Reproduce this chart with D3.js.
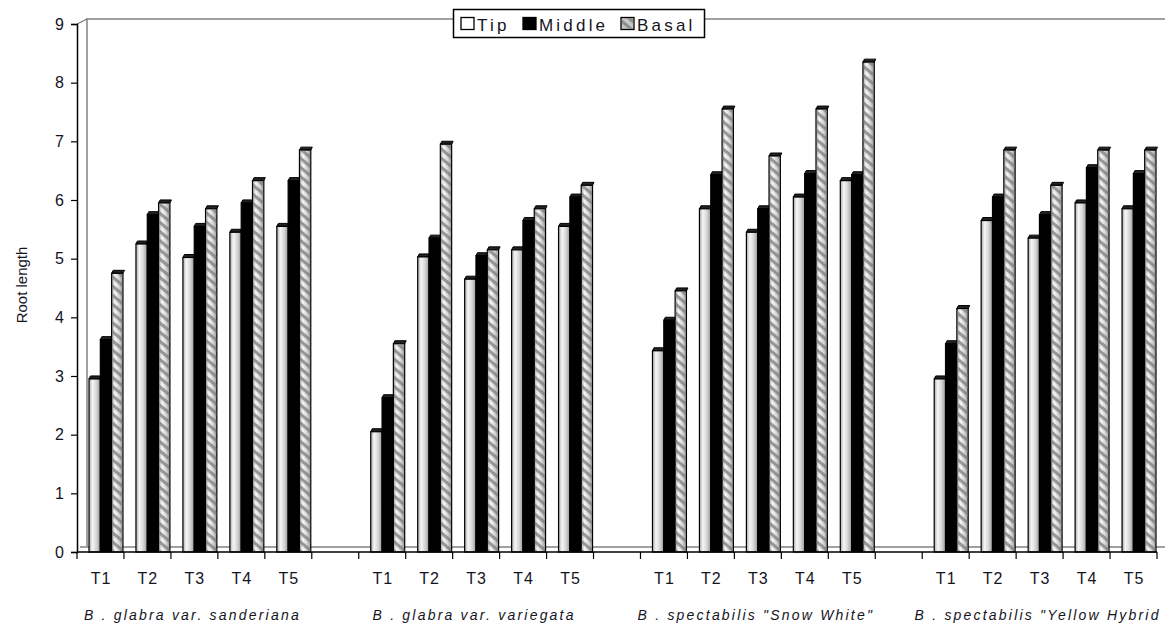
<!DOCTYPE html>
<html>
<head>
<meta charset="utf-8">
<script src="https://cdn.jsdelivr.net/npm/d3@7"></script>
<style>
html,body{margin:0;padding:0;background:#fff;}
svg{display:block;font-family:"Liberation Sans",Arial,sans-serif;}
</style>
</head>
<body>
<svg id="chart" width="1165" height="626"></svg>
<script>
const groups = ['B . glabra  var. sanderiana', 'B . glabra  var. variegata', 'B . spectabilis "Snow White"', 'B . spectabilis "Yellow Hybrid'];
const treatments = ['T1', 'T2', 'T3', 'T4', 'T5'];
const seriesNames = ['Tip', 'Middle', 'Basal'];
const tipValues =    [2.95, 5.25, 5.02, 5.45, 5.55,  2.05, 5.03, 4.65, 5.15, 5.55,  3.43, 5.85, 5.45, 6.05, 6.33,  2.95, 5.65, 5.35, 5.95, 5.85];
const middleValues = [3.62, 5.75, 5.55, 5.95, 6.33,  2.63, 5.35, 5.05, 5.65, 6.05,  3.95, 6.43, 5.85, 6.45, 6.43,  3.55, 6.05, 5.75, 6.55, 6.45];
const basalValues =  [4.75, 5.95, 5.85, 6.33, 6.85,  3.55, 6.95, 5.15, 5.85, 6.25,  4.45, 7.55, 6.75, 7.55, 8.35,  4.15, 6.85, 6.25, 6.85, 6.85];
const yTicks = [0, 1, 2, 3, 4, 5, 6, 7, 8, 9];
const yTitle = 'Root length';

const svg = d3.select('#chart');
const defs = svg.append('defs');
const textColor = '#14141e';

// slots: 5 treatments per group with an empty slot between groups
const slots = [];
groups.forEach((g, gi) => {
  treatments.forEach(t => slots.push(gi + '|' + t));
  if (gi < groups.length - 1) slots.push('gap' + gi);
});

const x0 = 77, x1 = 1157, yBase = 552, yTop = 24;
const dx = 10, dy = 5; // depth offset of the back wall

const x = d3.scaleBand().domain(slots).range([x0, x1]).padding(0);
const xs = d3.scaleBand().domain(seriesNames).range([12, x.bandwidth() - 1]).padding(0);
const y = d3.scaleLinear().domain([0, 9]).range([yBase, yTop]);

// gradients & patterns
const grad = defs.append('linearGradient').attr('id', 'cyl').attr('x1', '0%').attr('x2', '100%');
[[0, '#a8a8a8'], [0.3, '#f6f6f6'], [0.65, '#d6d6d6'], [1, '#9a9a9a']].forEach(s =>
  grad.append('stop').attr('offset', s[0]).attr('stop-color', s[1]));
const pat = defs.append('pattern').attr('id', 'stripes').attr('patternUnits', 'userSpaceOnUse')
  .attr('width', 7).attr('height', 7).attr('patternTransform', 'rotate(40)');
pat.append('rect').attr('x', 0).attr('y', 0).attr('width', 7).attr('height', 3.2).attr('fill', '#7a7a7a').attr('fill-opacity', 0.75);

// back wall
svg.append('path')
  .attr('d', `M${x0 + dx},${yBase - dy} L${x0 + dx},${yTop - dy} L1165,${yTop - dy}`)
  .attr('fill', 'none').attr('stroke', '#a0a0a0').attr('stroke-width', 2);
svg.append('line').attr('x1', x0 + 3).attr('x2', 1165).attr('y1', yBase - dy).attr('y2', yBase - dy)
  .attr('stroke', '#a0a0a0').attr('stroke-width', 2);
svg.append('line').attr('x1', x0).attr('y1', yTop).attr('x2', x0 + dx).attr('y2', yTop - dy)
  .attr('stroke', '#555').attr('stroke-width', 1);

// bars
const rows = [];
groups.forEach((g, gi) => treatments.forEach((t, ti) => {
  const i = gi * 5 + ti;
  rows.push({slot: gi + '|' + t, s: 'Tip', v: tipValues[i]});
  rows.push({slot: gi + '|' + t, s: 'Middle', v: middleValues[i]});
  rows.push({slot: gi + '|' + t, s: 'Basal', v: basalValues[i]});
}));

const bw = xs.bandwidth();
const bars = svg.append('g').selectAll('g').data(rows).join('g')
  .attr('transform', d => `translate(${x(d.slot) + xs(d.s)},0)`);

// top cap (3D)
bars.append('path')
  .attr('d', d => {
    const t = y(d.v);
    return `M0,${t} L1.5,${t - 3} L${bw + 1.5},${t - 3} L${bw},${t} Z`;
  })
  .attr('fill', '#222').attr('stroke', '#000').attr('stroke-width', 1);
bars.append('rect')
  .attr('x', 0).attr('y', d => y(d.v)).attr('width', bw).attr('height', d => yBase - y(d.v))
  .attr('fill', d => d.s === 'Middle' ? '#000' : 'url(#cyl)')
  .attr('stroke', '#000').attr('stroke-width', 1.2);
bars.filter(d => d.s === 'Basal').append('rect')
  .attr('x', 0.6).attr('y', d => y(d.v) + 0.6).attr('width', bw - 1.2).attr('height', d => yBase - y(d.v) - 1.2)
  .attr('fill', 'url(#stripes)');

// y axis
const yAxis = d3.axisLeft(y).tickValues(yTicks).tickSize(6).tickPadding(7).tickFormat(d3.format('d'));
const gy = svg.append('g').attr('transform', `translate(${x0},0)`).call(yAxis);
gy.select('.domain').attr('stroke', '#000').attr('stroke-width', 1.5);
gy.selectAll('.tick line').attr('stroke', '#000').attr('stroke-width', 1.2);
gy.selectAll('.tick text').attr('font-size', 16).attr('fill', textColor).attr('font-family', '"Liberation Sans",Arial,sans-serif');

// x axis line and ticks at slot boundaries
svg.append('line').attr('x1', x0).attr('x2', x1).attr('y1', yBase).attr('y2', yBase)
  .attr('stroke', '#000').attr('stroke-width', 1.5);
const bounds = slots.map(s => x(s)).concat([x1]);
svg.append('g').selectAll('line').data(bounds).join('line')
  .attr('x1', d => d).attr('x2', d => d).attr('y1', yBase).attr('y2', yBase + 7)
  .attr('stroke', '#000').attr('stroke-width', 1.2);

// treatment labels
svg.append('g').selectAll('text').data(slots.filter(s => s.indexOf('|') > 0)).join('text')
  .attr('x', d => x(d) + x.bandwidth() / 2 + 0.5).attr('y', 584)
  .attr('text-anchor', 'middle').attr('font-size', 16).attr('letter-spacing', 1).attr('fill', textColor)
  .text(d => d.split('|')[1]);

// group labels
const gl = svg.append('g').selectAll('text').data(groups).join('text')
  .attr('x', (d, i) => (x(i + '|T1') + x(i + '|T5') + x.bandwidth()) / 2 - 2)
  .attr('y', 620)
  .attr('text-anchor', 'middle').attr('font-size', 14).attr('font-style', 'italic')
  .attr('letter-spacing', 2.2).attr('fill', textColor)
  .text(d => d);
gl.each(function() {
  const el = d3.select(this);
  const w = this.getComputedTextLength();
  const cx = +el.attr('x');
  if (cx + w / 2 > 1164) el.attr('x', 1164 - w / 2);
});

// y title
svg.append('text').attr('transform', 'translate(27,285) rotate(-90)')
  .attr('text-anchor', 'middle').attr('font-size', 15).attr('fill', textColor).text(yTitle);

// legend
const lg = svg.append('g');
lg.append('rect').attr('x', 453.5).attr('y', 9.5).attr('width', 251).attr('height', 28)
  .attr('fill', '#fff').attr('stroke', '#000').attr('stroke-width', 1.5);
const legItems = [
  {s: 'Tip', x: 461, tx: 477},
  {s: 'Middle', x: 523, tx: 539},
  {s: 'Basal', x: 621, tx: 637}
];
legItems.forEach(it => {
  const fill = it.s === 'Tip' ? '#fff' : it.s === 'Middle' ? '#000' : '#c8c8c8';
  lg.append('rect').attr('x', it.x).attr('y', 17.5).attr('width', 13).attr('height', 12)
    .attr('fill', fill).attr('stroke', '#000').attr('stroke-width', 1.3);
  if (it.s === 'Basal') {
    lg.append('rect').attr('x', it.x + 0.7).attr('y', 18.2).attr('width', 11.6).attr('height', 10.6)
      .attr('fill', 'url(#stripes)');
  }
  lg.append('text').attr('x', it.tx).attr('y', 30.5).attr('font-size', 17).attr('letter-spacing', 3.2)
    .attr('fill', textColor).text(it.s);
});
</script>
</body>
</html>
